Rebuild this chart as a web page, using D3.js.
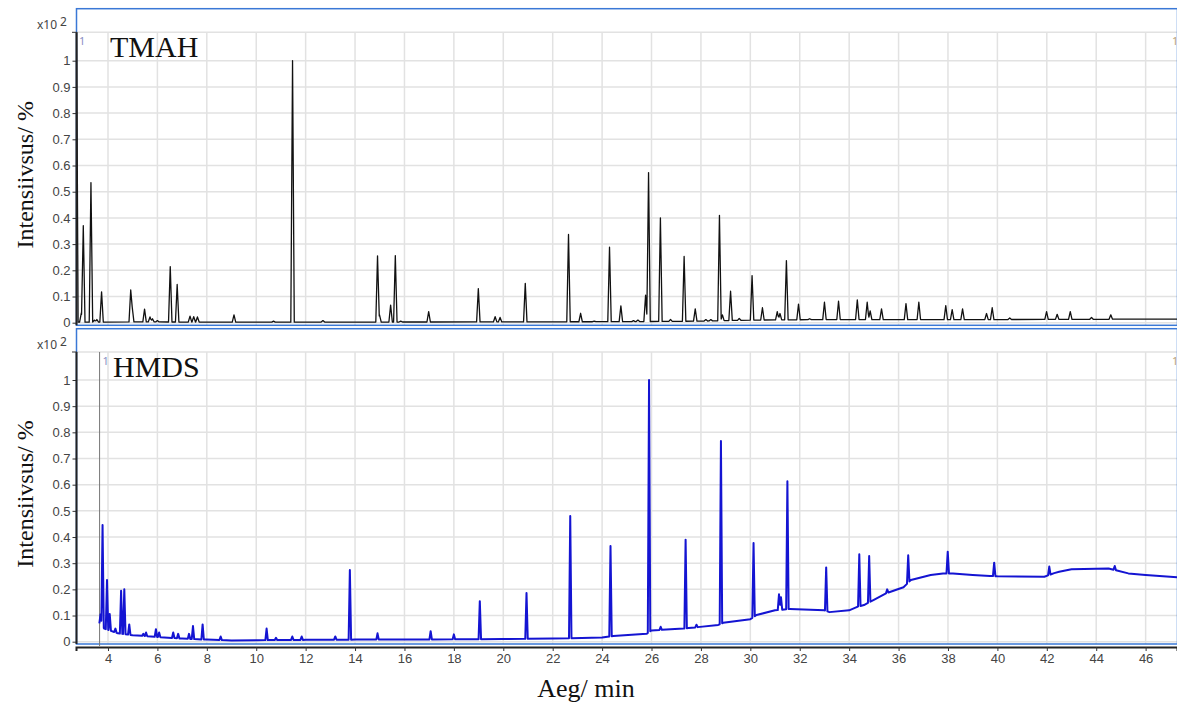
<!DOCTYPE html>
<html>
<head>
<meta charset="utf-8">
<script src="https://cdn.jsdelivr.net/npm/d3@7"></script>
<style>
  body { margin: 0; background: #fff; }
  #chart { width: 1177px; height: 706px; }
</style>
</head>
<body>
<div id="chart"></div>
<script>
// TMAH trace: peak apex times (min) and apex heights (x10^2 %)
const tmahPeakTime = [2.72, 2.92, 3.00, 3.31, 3.45, 3.55, 3.74, 4.92, 4.98, 5.48, 5.70, 5.80, 6.00,
  6.52, 6.80, 7.32, 7.47, 7.62, 9.10, 10.7, 11.47, 12.7, 14.91, 14.99, 15.44, 15.63, 15.85, 16.98,
  18.99, 19.67, 19.87, 20.89, 22.64, 23.13, 23.68, 24.30, 24.76, 25.27, 25.45, 25.76, 25.88, 26.36,
  26.77, 27.32, 27.77, 28.2, 28.4, 28.75, 28.87, 29.20, 29.55, 30.07, 30.49, 31.09, 31.20, 31.46,
  31.95, 32.4, 33.00, 33.57, 34.33, 34.73, 34.85, 35.31, 36.30, 36.82, 37.91, 38.17, 38.59, 39.56,
  39.79, 40.50, 41.99, 42.42, 42.95, 43.81, 44.59];
const tmahPeakHeight = [1.3, 0.037, 0.37, 0.535, 0.01, 0.012, 0.118, 0.125, 0.06, 0.052, 0.022, 0.015, 0.008,
  0.214, 0.146, 0.025, 0.023, 0.022, 0.03, 0.006, 1.0, 0.008, 0.255, 0.03, 0.067, 0.256, 0.006, 0.042,
  0.13, 0.023, 0.02, 0.15, 0.337, 0.036, 0.006, 0.288, 0.064, 0.008, 0.01, 0.105, 0.573, 0.40,
  0.012, 0.253, 0.053, 0.012, 0.012, 0.41, 0.03, 0.12, 0.016, 0.18, 0.057, 0.042, 0.035, 0.237,
  0.071, 0.015, 0.078, 0.082, 0.087, 0.078, 0.045, 0.053, 0.073, 0.078, 0.065, 0.05, 0.053, 0.035,
  0.057, 0.018, 0.042, 0.032, 0.042, 0.02, 0.03];
const tmahBaseline = [[2.78, 0.002], [5, 0.003], [10, 0.002], [20, 0.003], [25, 0.004], [28, 0.006],
  [30, 0.01], [33, 0.012], [40, 0.012], [47.3, 0.014]];

// HMDS trace
const hmdsPeakTime = [3.70, 3.78, 3.96, 4.07, 4.30, 4.53, 4.66, 4.86, 5.43, 5.54, 5.94, 6.07, 6.64, 6.84,
  7.28, 7.44, 7.83, 8.56, 10.42, 10.80, 11.46, 11.84, 13.20, 13.79, 14.91, 17.06, 18.0, 19.05, 20.94,
  22.71, 24.34, 25.90, 26.37, 27.38, 27.82, 28.81, 30.13, 31.16, 31.24, 31.50, 33.07, 34.41, 34.81,
  35.54, 36.39, 37.99, 39.87, 42.10, 44.75];
const hmdsPeakHeight = [0.105, 0.446, 0.236, 0.106, 0.05, 0.195, 0.20, 0.066, 0.03, 0.035, 0.048, 0.035, 0.035, 0.03,
  0.03, 0.06, 0.066, 0.02, 0.05, 0.015, 0.02, 0.02, 0.02, 0.274, 0.032, 0.04, 0.028, 0.155, 0.186,
  0.48, 0.366, 1.0, 0.057, 0.39, 0.065, 0.767, 0.377, 0.181, 0.17, 0.613, 0.284, 0.334, 0.327,
  0.2, 0.33, 0.344, 0.302, 0.287, 0.289];
const hmdsBaseline = [[3.68, 0.07], [3.74, 0.065], [3.85, 0.05], [4.1, 0.042], [4.4, 0.032], [5.0, 0.025],
  [6.0, 0.018], [7.0, 0.012], [8.0, 0.008], [9.0, 0.005], [10, 0.006], [12, 0.007], [14, 0.008], [16, 0.008],
  [18, 0.009], [20, 0.01], [22, 0.012], [24, 0.016], [24.45, 0.022], [25.8, 0.03], [26.0, 0.043],
  [27.3, 0.05], [27.5, 0.052], [28.7, 0.064], [28.9, 0.072], [30.0, 0.086], [30.25, 0.102], [31.0, 0.12],
  [31.6, 0.125], [33.0, 0.12], [33.2, 0.113], [34.0, 0.12], [34.35, 0.134], [34.6, 0.14], [35.0, 0.16],
  [35.5, 0.185], [36.2, 0.208], [36.5, 0.236], [37.3, 0.255], [37.8, 0.261], [38.2, 0.261], [39.0, 0.255],
  [39.7, 0.251], [40, 0.25], [41.9, 0.248], [42.3, 0.262], [42.5, 0.267], [43, 0.277], [44.5, 0.28],
  [45.3, 0.261], [46, 0.255], [47.3, 0.246]];
const hmdsMarkerTime = 3.66;

const xTicks = d3.range(4, 47, 2);
const yTicks = d3.range(0, 11).map(i => i / 10);

const width = 1177, height = 706;
const svg = d3.select("#chart").append("svg")
  .attr("width", width).attr("height", height)
  .style("font-family", "'Noto Sans', sans-serif");

const x = d3.scaleLinear().domain([2.705, 47.27]).range([76, 1177]);

// build a trace from baseline anchors plus narrow triangular peaks
function buildTrace(times, heights, baseline, hw) {
  const base = d3.scaleLinear().domain(baseline.map(d => d[0])).range(baseline.map(d => d[1])).clamp(true);
  let ts = baseline.map(d => d[0]);
  times.forEach(t => ts.push(t - hw, t, t + hw));
  ts = Array.from(new Set(ts)).sort((a, b) => a - b);
  return ts.map(t => {
    let v = base(t);
    times.forEach((tp, i) => {
      const dt = Math.abs(t - tp);
      if (dt < hw) {
        const lift = (heights[i] - base(tp)) * (1 - dt / hw);
        v = Math.max(v, base(t) + lift);
      }
    });
    return [t, v];
  });
}

const panels = [
  {name: "TMAH", frameTop: 8.7, frameBottom: 325.3, plotTop: 32.3, y0: 322.7, y1: 60.7,
   data: buildTrace(tmahPeakTime, tmahPeakHeight, tmahBaseline, 0.07), color: "#111", sw: 1.3, xAxis: false},
  {name: "HMDS", frameTop: 328.7, frameBottom: 644, plotTop: 352, y0: 641.7, y1: 380,
   data: buildTrace(hmdsPeakTime, hmdsPeakHeight, hmdsBaseline, 0.05), color: "#1414d2", sw: 2, xAxis: true}
];

panels.forEach((p, idx) => {
  const y = d3.scaleLinear().domain([0, 1]).range([p.y0, p.y1]);
  const g = svg.append("g");

  // gridlines
  g.append("g").selectAll("line").data(xTicks).join("line")
    .attr("x1", d => x(d)).attr("x2", d => x(d))
    .attr("y1", p.plotTop).attr("y2", p.frameBottom)
    .attr("stroke", "#e2e2e2").attr("stroke-width", 1.5);
  g.append("g").selectAll("line").data(yTicks.concat([y.invert(p.plotTop)])).join("line")
    .attr("x1", 76).attr("x2", 1177)
    .attr("y1", d => y(d)).attr("y2", d => y(d))
    .attr("stroke", "#e2e2e2").attr("stroke-width", 1.5);

  // frame
  g.append("rect")
    .attr("x", 76.5).attr("y", p.frameTop)
    .attr("width", 1177 - 76).attr("height", p.frameBottom - p.frameTop)
    .attr("fill", "none").attr("stroke", "#3a78d6").attr("stroke-width", 1.5);

  // clip
  svg.append("clipPath").attr("id", "clip" + idx)
    .append("rect").attr("x", 76).attr("y", p.plotTop)
    .attr("width", 1177 - 76).attr("height", p.frameBottom - p.plotTop);

  if (idx === 1) {
    g.append("line")
      .attr("x1", x(hmdsMarkerTime)).attr("x2", x(hmdsMarkerTime))
      .attr("y1", p.plotTop).attr("y2", p.frameBottom + 2)
      .attr("stroke", "#777").attr("stroke-width", 1);
  }

  const line = d3.line().x(d => x(d[0])).y(d => y(d[1]));
  g.append("path")
    .datum(p.data)
    .attr("clip-path", `url(#clip${idx})`)
    .attr("fill", "none")
    .attr("stroke", p.color)
    .attr("stroke-width", p.sw)
    .attr("stroke-linejoin", "round")
    .attr("d", line);

  // y axis
  const yAxis = g.append("g")
    .attr("transform", "translate(76.5,0)")
    .call(d3.axisLeft(y).tickValues(yTicks).tickSize(4).tickFormat(d3.format("~g")));
  yAxis.select(".domain").remove();
  yAxis.selectAll("text").attr("fill", "#444").style("font-size", "13px").attr("x", -6);
  yAxis.selectAll(".tick line").attr("stroke", "#333");
  g.append("line")
    .attr("x1", 76.5).attr("x2", 76.5).attr("y1", p.plotTop).attr("y2", p.frameBottom)
    .attr("stroke", "#222").attr("stroke-width", 2);
  g.append("line")
    .attr("x1", 72).attr("x2", 77).attr("y1", p.plotTop).attr("y2", p.plotTop)
    .attr("stroke", "#333");

  // x10^2 label
  const ex = g.append("text").attr("x", 37).attr("y", p.plotTop - 3)
    .attr("fill", "#444").style("font-size", "12px");
  ex.append("tspan").text("x10");
  ex.append("tspan").attr("dx", 3).attr("dy", -3).text("2");

  // small "1" markers
  g.append("text").attr("x", idx === 0 ? 79 : x(hmdsMarkerTime) + 3).attr("y", p.plotTop + 13)
    .attr("fill", "#8a8fc4").style("font-size", "11px").text("1");
  g.append("text").attr("x", 1172).attr("y", p.plotTop + 13)
    .attr("fill", "#b9a27a").style("font-size", "11px").text("1");

  // panel name
  g.append("text")
    .attr("x", idx === 0 ? 110 : 113).attr("y", p.plotTop + 25)
    .attr("font-family", "'Liberation Serif', serif")
    .style("font-size", "30px").attr("fill", "#111")
    .text(p.name);

  // y title
  g.append("text")
    .attr("transform", `translate(33,${(p.plotTop + p.frameBottom) / 2 - 4}) rotate(-90)`)
    .attr("text-anchor", "middle")
    .attr("font-family", "'Liberation Serif', serif")
    .style("font-size", "24px").attr("fill", "#111")
    .text("Intensiivsus/ %");

  if (p.xAxis) {
    const xAxis = g.append("g")
      .attr("transform", "translate(0,647)")
      .call(d3.axisBottom(x).tickValues(xTicks).tickSize(4).tickFormat(d3.format("d")));
    xAxis.select(".domain").attr("stroke", "#222").attr("stroke-width", 2);
    xAxis.selectAll(".tick line").attr("stroke", "#333");
    xAxis.selectAll("text").attr("fill", "#444").style("font-size", "13px").attr("y", 7);
  }
});

// x title
svg.append("text")
  .attr("x", 586).attr("y", 697)
  .attr("text-anchor", "middle")
  .attr("font-family", "'Liberation Serif', serif")
  .style("font-size", "26px").attr("fill", "#111")
  .text("Aeg/ min");
</script>
</body>
</html>
